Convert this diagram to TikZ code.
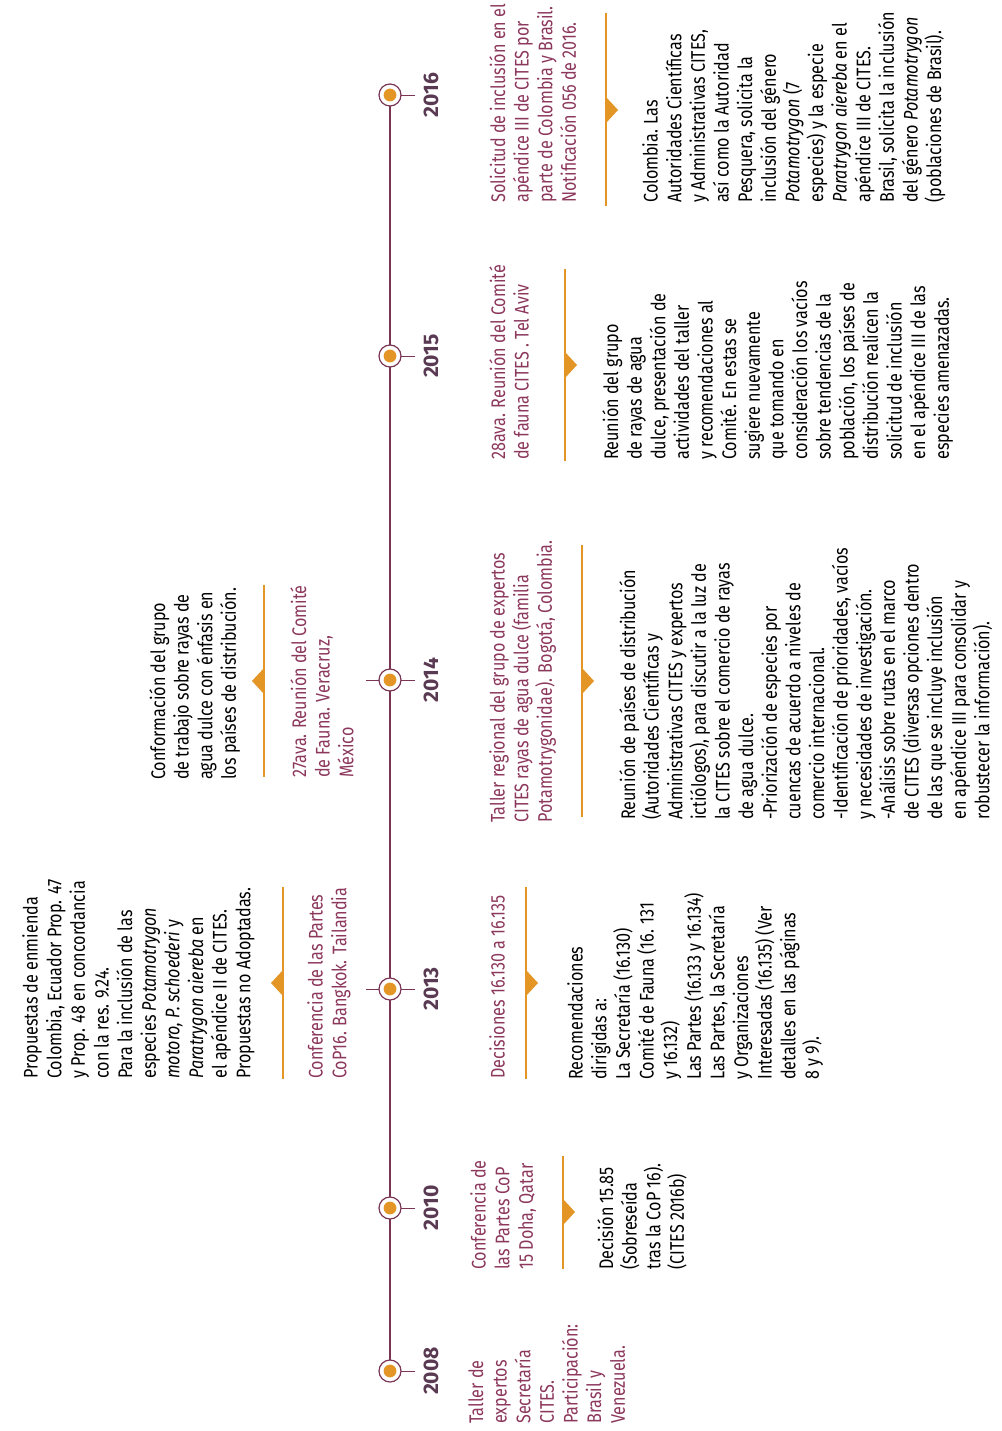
\documentclass[tikz,border=0pt]{standalone}
\usepackage{fontspec}
\setmainfont[FakeStretch=0.82]{Fira Sans}
\newfontfamily\anofont{Fira Sans}
\usetikzlibrary{backgrounds}
\definecolor{vino}{RGB}{122,52,84}
\definecolor{vinotxt}{RGB}{140,55,92}
\definecolor{anocol}{RGB}{90,58,82}
\definecolor{naranja}{RGB}{227,149,38}
\begin{document}
\begin{tikzpicture}[x=0.025cm, y=-0.025cm,
    texto/.style={rotate=90, anchor=north west, inner sep=0pt, align=left,
        font=\fontsize{14}{16.8}\selectfont},
    titulo/.style={texto, text=vinotxt},
    cuerpo/.style={texto, text=black},
    anio/.style={rotate=90, text=anocol, font=\anofont\bfseries\fontsize{15}{18}\selectfont},
    hito/.style={circle, draw=vino, line width=0.85pt, fill=white, minimum size=0.55cm,
        inner sep=0pt, path picture={\fill[naranja] (path picture bounding box.center) circle (0.16cm);}},
    sep/.style={naranja, line width=2.1pt},
    eje/.style={vino, line width=1.1pt},
    marca/.style={vino, line width=0.7pt}]
    \useasboundingbox (0,0) rectangle (1001,1431);

    % 时间轴
    \foreach \a/\p in {2008/1371, 2010/1208, 2013/989, 2014/680, 2015/356, 2016/95} {
        \node[hito] (h\a) at (390,\p) {};
        \node[anio] (a\a) at (431,\p) {\a};
    }
    \begin{scope}[on background layer]
        \draw[eje] (h2008.center) -- (h2016.center);
        \foreach \a in {2008, 2010, 2015, 2016}
            \draw[marca] (h\a.center) -- ++(25,0);
        \foreach \a in {2013, 2014}
            \draw[marca] (h\a.center) ++(-24,0) -- ++(49,0);
    \end{scope}

    % 2008
    \node[titulo] (t2008) at (468,1424) {Taller de\\expertos\\Secretaría\\CITES.\\Participación:\\Brasil y\\Venezuela.};

    % 2010
    \node[titulo] (t2010) at (470,1270) {Conferencia de\\las Partes CoP\\15 Doha, Qatar};
    \draw[sep] (563,1156) -- (563,1269);
    \fill[naranja] (563,1199) -- (575,1212) -- (563,1225) -- cycle;
    \node[cuerpo] (c2010) at (597,1270) {Decisión 15.85\\(Sobreseída\\tras la CoP 16).\\(CITES 2016b)};

    % 2013 上方
    \node[cuerpo] (c2013a) at (22,1079) {Propuestas de enmienda\\Colombia, Ecuador Prop. 47\\y Prop. 48 en concordancia\\con la res. 9.24.\\Para la inclusión de las\\especies \textit{Potamotrygon}\\\textit{motoro, P. schoederi} y\\\textit{Paratrygon aiereba} en\\el apéndice II de CITES.\\Propuestas no Adoptadas.};
    \draw[sep] (283,887) -- (283,1079);
    \fill[naranja] (283,970) -- (271,983) -- (283,996) -- cycle;
    \node[titulo] (t2013a) at (307,1079) {Conferencia de las Partes\\CoP16. Bangkok. Tailandia};

    % 2013 下方
    \node[titulo] (t2013b) at (489,1079) {Decisiones 16.130 a 16.135};
    \draw[sep] (526,887) -- (526,1079);
    \fill[naranja] (526,970) -- (538,983) -- (526,996) -- cycle;
    \node[cuerpo] (c2013b) at (567,1080) {Recomendaciones\\dirigidas a:\\La Secretaría (16.130)\\Comité de Fauna (16. 131\\y 16.132)\\Las Partes (16.133 y 16.134)\\Las Partes, la Secretaría\\y Organizaciones\\Interesadas (16.135) (Ver\\detalles en las páginas\\8 y 9).};

    % 2014 上方
    \node[cuerpo] (c2014a) at (149,780) {Conformación del grupo\\de trabajo sobre rayas de\\agua dulce con énfasis en\\los países de distribución.};
    \draw[sep] (264,585) -- (264,777);
    \fill[naranja] (264,668) -- (252,681) -- (264,694) -- cycle;
    \node[titulo] (t2014a) at (290,778) {27ava. Reunión del Comité\\de Fauna. Veracruz,\\México};

    % 2014 下方
    \node[titulo] (t2014b) at (489,823) {Taller regional del grupo de expertos\\CITES rayas de agua dulce (familia\\Potamotrygonidae). Bogotá, Colombia.};
    \draw[sep] (582,545) -- (582,817);
    \fill[naranja] (582,668) -- (594,681) -- (582,694) -- cycle;
    \node[cuerpo] (c2014b) at (619,820) {Reunión de países de distribución\\(Autoridades Científicas y\\Administrativas CITES y expertos\\ictiólogos), para discutir a la luz de\\la CITES sobre el comercio de rayas\\de agua dulce.\\-Priorización de especies por\\cuencas de acuerdo a niveles de\\comercio internacional.\\-Identificación de prioridades, vacíos\\y necesidades de investigación.\\-Análisis sobre rutas en el marco\\de CITES (diversas opciones dentro\\de las que se incluye inclusión\\en apéndice III para consolidar y\\robustecer la información).};

    % 2015
    \node[titulo] (t2015) at (489,460) {28ava. Reunión del Comité\\de fauna CITES . Tel Aviv};
    \draw[sep] (565,269) -- (565,461);
    \fill[naranja] (565,352) -- (577,365) -- (565,378) -- cycle;
    \node[cuerpo] (c2015) at (602,460) {Reunión del grupo\\de rayas de agua\\dulce, presentación de\\actividades del taller\\y recomendaciones al\\Comité. En estas se\\sugiere nuevamente\\que tomando en\\consideración los vacíos\\sobre tendencias de la\\población, los países de\\distribución realicen la\\solicitud de inclusión\\en el apéndice III de las\\especies amenazadas.};

    % 2016
    \node[titulo] (t2016) at (489,203) {Solicitud de inclusión en el\\apéndice III de CITES por\\parte de Colombia y Brasil.\\Notificación 056 de 2016.};
    \draw[sep] (606,13) -- (606,206);
    \fill[naranja] (606,97) -- (618,110) -- (606,123) -- cycle;
    \node[cuerpo] (c2016) at (642,203) {Colombia. Las\\Autoridades Científicas\\y Administrativas CITES,\\así como la Autoridad\\Pesquera, solicita la\\inclusión del género\\\textit{Potamotrygon} (7\\especies) y la especie\\\textit{Paratrygon aiereba} en el\\apéndice III de CITES.\\Brasil, solicita la inclusión\\del género \textit{Potamotrygon}\\(poblaciones de Brasil).};
\end{tikzpicture}
\end{document}
